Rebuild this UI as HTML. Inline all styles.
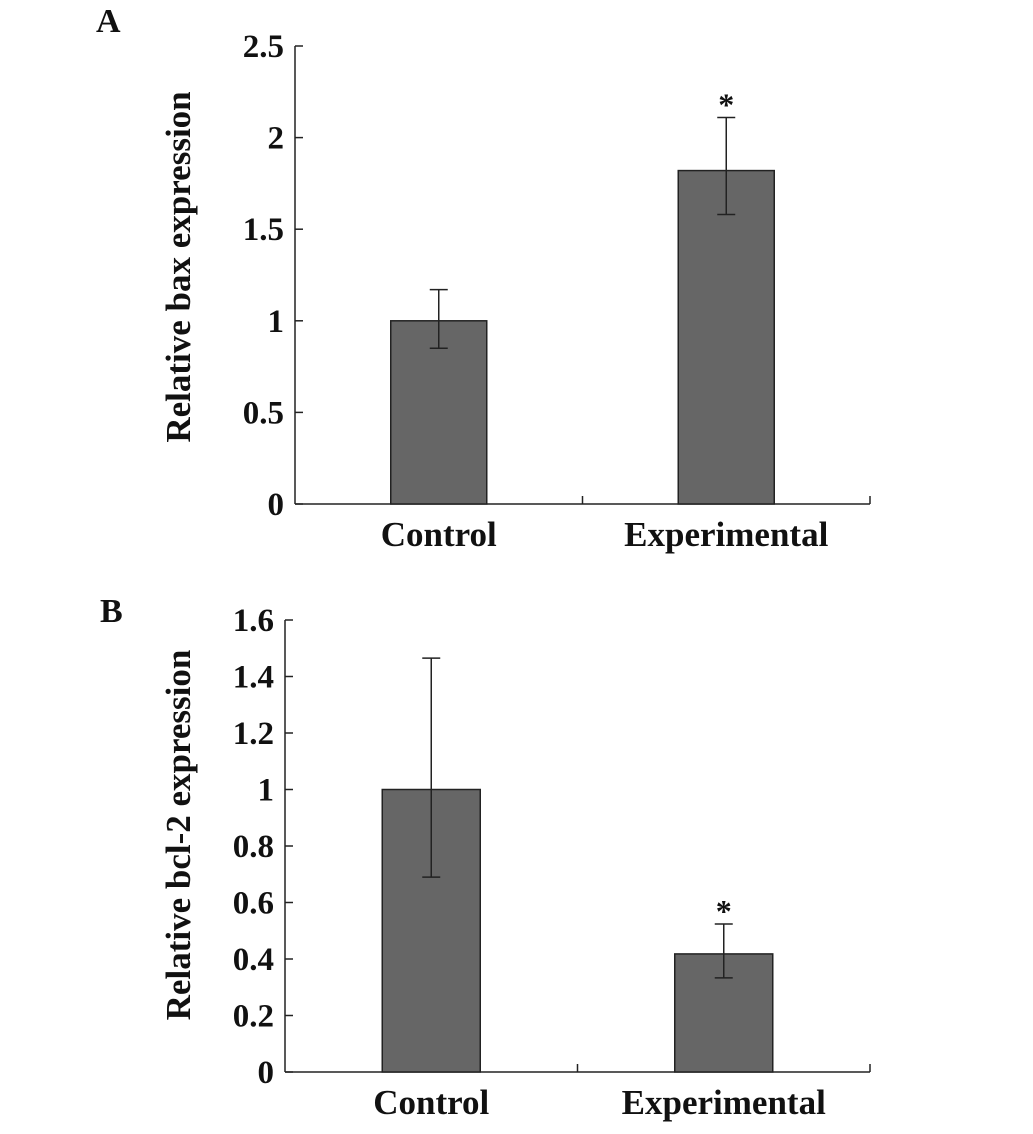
<!DOCTYPE html>
<html><head><meta charset="utf-8"><style>
body{margin:0;background:#fff}
svg text{font-family:"Liberation Serif",serif;font-weight:bold;fill:#111}
</style></head><body>
<svg id="chart" width="1033" height="1129" xmlns="http://www.w3.org/2000/svg"></svg>
<script>
const categories = ["Control","Experimental"];
const baxValues = [1.0, 1.82];
const baxErrLow = [0.85, 1.58];
const baxErrHigh = [1.17, 2.11];
const baxTicks = ["0","0.5","1","1.5","2","2.5"];
const baxTickVals = [0,0.5,1,1.5,2,2.5];
const bclValues = [1.0, 0.418];
const bclErrLow = [0.69, 0.333];
const bclErrHigh = [1.465, 0.524];
const bclTicks = ["0","0.2","0.4","0.6","0.8","1","1.2","1.4","1.6"];
const bclTickVals = [0,0.2,0.4,0.6,0.8,1,1.2,1.4,1.6];

const svg = document.getElementById('chart');
const NS = 'http://www.w3.org/2000/svg';
function mk(tag, attrs, parent){const e=document.createElementNS(NS,tag);for(const k in attrs)e.setAttribute(k,attrs[k]);(parent||svg).appendChild(e);return e;}

function panel(cfg){
  const g = mk('g',{});
  
  
  const y = v => cfg.y0 - (v/cfg.max)*(cfg.y0-cfg.yTop);
  const lab = mk('text',{x:cfg.letterX,y:cfg.letterY,'font-size':34},g); lab.textContent=cfg.letter;
  
  
  const ya = mk('line',{x1:cfg.x0,y1:cfg.yTop,x2:cfg.x0,y2:cfg.y0,stroke:'#222','stroke-width':1.5},g);
  
  
  const xa = mk('line',{x1:cfg.x0,y1:cfg.y0,x2:cfg.x1,y2:cfg.y0,stroke:'#222','stroke-width':1.5},g);
  
  
  const mid=(cfg.x0+cfg.x1)/2;
  mk('line',{x1:mid,y1:cfg.y0,x2:mid,y2:cfg.y0-8,stroke:'#222','stroke-width':1.5},g);
  mk('line',{x1:cfg.x1,y1:cfg.y0,x2:cfg.x1,y2:cfg.y0-8,stroke:'#222','stroke-width':1.5},g);
  cfg.tickVals.forEach((v,i)=>{
    mk('line',{x1:cfg.x0,y1:y(v),x2:cfg.x0+8,y2:y(v),stroke:'#222','stroke-width':1.5},g);
    const t = mk('text',{x:cfg.x0-11,y:y(v)+11,'font-size':33,'text-anchor':'end'},g);
    t.textContent = cfg.ticks[i];
    
    
  });
  const yt = mk('text',{transform:`translate(${cfg.titleX},${cfg.titleY}) rotate(-90)`,'font-size':35,'text-anchor':'middle'},g);
  yt.textContent = cfg.title;
  
  
  const bw = (cfg.x1-cfg.x0)/2;
  categories.forEach((c,i)=>{
    const cx = cfg.x0 + bw*(i+0.5);
    const r = mk('rect',{x:cx-cfg.barW/2,y:y(cfg.values[i]),width:cfg.barW,height:cfg.y0-y(cfg.values[i]),fill:'#666',stroke:'#222','stroke-width':1.5},g);
    
    
    const e = mk('path',{d:`M${cx},${y(cfg.lo[i])}V${y(cfg.hi[i])}M${cx-9},${y(cfg.hi[i])}H${cx+9}M${cx-9},${y(cfg.lo[i])}H${cx+9}`,stroke:'#222','stroke-width':1.5,fill:'none'},g);
    
    
    const xl = mk('text',{x:cx,y:cfg.y0+cfg.catDy,'font-size':35,'text-anchor':'middle'},g);
    xl.textContent=c;
    
    
    if(i===1){
      const s = mk('text',{x:cx,y:y(cfg.hi[i])-2,'font-size':32,'text-anchor':'middle'},g);
      s.textContent='*';
      
      
    }
  });
}
panel({name:'panel-a-bax',letter:'A',letterX:96,letterY:32,x0:295,x1:870,yTop:46,y0:504,max:2.5,
  tickVals:baxTickVals,ticks:baxTicks,values:baxValues,lo:baxErrLow,hi:baxErrHigh,barW:96,
  title:'Relative bax expression',titleX:190,titleY:267,catDy:42});
panel({name:'panel-b-bcl2',letter:'B',letterX:100,letterY:622,x0:285,x1:870,yTop:620,y0:1072,max:1.6,
  tickVals:bclTickVals,ticks:bclTicks,values:bclValues,lo:bclErrLow,hi:bclErrHigh,barW:98,
  title:'Relative bcl-2 expression',titleX:190,titleY:835,catDy:42});
</script>
</body></html>
